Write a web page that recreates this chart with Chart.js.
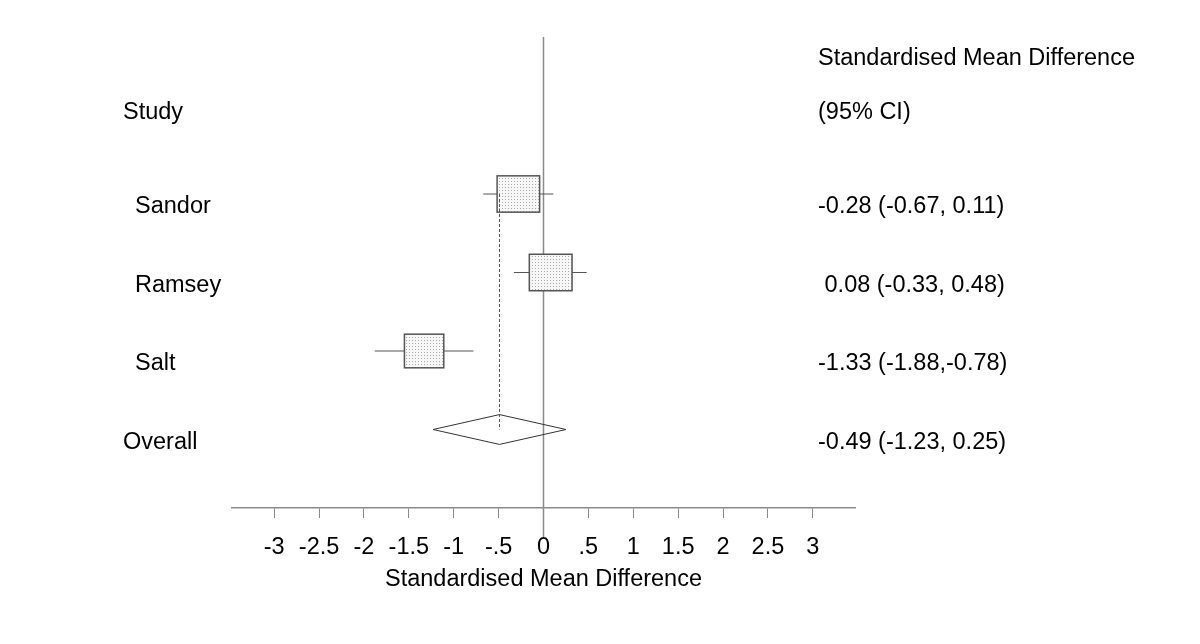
<!DOCTYPE html>
<html lang="en">
<head>
    <meta charset="UTF-8">
    <title>Standardised Mean Difference - Forest Plot</title>
    <style>
        * { margin: 0; padding: 0; box-sizing: border-box; }
        body { background: #FFFFFF; font-family: 'Liberation Sans', Arial, sans-serif; }
        .chart-container { position: relative; width: 1200px; height: 644px; }
    </style>
</head>
<body>
    <div class="chart-container">
        <canvas id="forest"></canvas>
    </div>

    <script src="https://cdn.jsdelivr.net/npm/chart.js@4/dist/chart.umd.min.js"></script>
    <script>
        // study data
        const studies = ['Sandor', 'Ramsey', 'Salt'];
        const estimates = [-0.28, 0.08, -1.33];
        const lower = [-0.67, -0.33, -1.88];
        const upper = [0.11, 0.48, -0.78];
        const weights = [34.9, 35.2, 29.9];
        const ciText = ['-0.28 (-0.67, 0.11)', ' 0.08 (-0.33, 0.48)', '-1.33 (-1.88,-0.78)'];

        // pooled estimate
        const overallLabel = 'Overall';
        const overall = [-0.49, -1.23, 0.25];
        const overallText = '-0.49 (-1.23, 0.25)';

        // x axis
        const tickValues = [-3, -2.5, -2, -1.5, -1, -0.5, 0, 0.5, 1, 1.5, 2, 2.5, 3];
        const tickLabels = ['-3', '-2.5', '-2', '-1.5', '-1', '-.5', '0', '.5', '1', '1.5', '2', '2.5', '3'];

        // rows counted up from the axis
        const rows = [4, 3, 2];
        const overallRow = 1;

        const FONT = "'Liberation Sans', Arial, sans-serif";
        const lineGrey = '#8a8a8a';
        const markGrey = '#555555';

        // dotted fill for the weight boxes
        const pat = document.createElement('canvas');
        pat.width = 3; pat.height = 3;
        const pctx = pat.getContext('2d');
        pctx.fillStyle = '#f7f7f7';
        pctx.fillRect(0, 0, 3, 3);
        pctx.fillStyle = '#a8a8a8';
        pctx.fillRect(1, 1, 1, 1);

        const datasets = [];

        // dashed line from first study down to the diamond
        datasets.push({
            data: [{ x: overall[0], y: rows[0] }, { x: overall[0], y: overallRow }],
            borderColor: markGrey, borderWidth: 1, borderDash: [3, 2],
            showLine: true, pointRadius: 0
        });

        // diamond
        datasets.push({
            data: [
                { x: overall[1], y: overallRow },
                { x: overall[0], y: overallRow + 0.19 },
                { x: overall[2], y: overallRow },
                { x: overall[0], y: overallRow - 0.19 },
                { x: overall[1], y: overallRow }
            ],
            borderColor: '#333333', borderWidth: 1, backgroundColor: '#FFFFFF',
            showLine: true, pointRadius: 0, fill: false
        });

        // confidence interval whiskers
        studies.forEach((s, i) => {
            datasets.push({
                data: [{ x: lower[i], y: rows[i] }, { x: upper[i], y: rows[i] }],
                borderColor: markGrey, borderWidth: 1,
                showLine: true, pointRadius: 0
            });
        });

        // line of no effect
        datasets.push({
            data: [{ x: 0, y: -0.37 }, { x: 0, y: 6 }],
            borderColor: lineGrey, borderWidth: 1.5,
            showLine: true, pointRadius: 0, clip: false
        });

        const forestPlugin = {
            id: 'forest',
            beforeDatasetDraw(chart, args) {
                if (args.index !== 0) return;
                const ctx = chart.ctx;
                const xs = chart.scales.x, ys = chart.scales.y;
                ctx.save();
                studies.forEach((s, i) => {
                    const cx = xs.getPixelForValue(estimates[i]);
                    const cy = ys.getPixelForValue(rows[i]);
                    const w = 7.2 * Math.sqrt(weights[i]);
                    const h = 6.15 * Math.sqrt(weights[i]);
                    ctx.fillStyle = ctx.createPattern(pat, 'repeat');
                    ctx.fillRect(cx - w / 2, cy - h / 2, w, h);
                    ctx.strokeStyle = markGrey;
                    ctx.lineWidth = 1.5;
                    ctx.strokeRect(cx - w / 2, cy - h / 2, w, h);
                });
                ctx.restore();
            },
            afterDraw(chart) {
                const ctx = chart.ctx;
                const ys = chart.scales.y;
                ctx.save();
                ctx.font = '23.5px ' + FONT;
                ctx.fillStyle = '#000000';
                ctx.textBaseline = 'middle';
                ctx.textAlign = 'left';
                ctx.fillText('Standardised Mean Difference', 818, ys.getPixelForValue(5.72));
                ctx.fillText('Study', 123, ys.getPixelForValue(5.04));
                ctx.fillText('(95% CI)', 818, ys.getPixelForValue(5.04));
                studies.forEach((s, i) => {
                    const y = ys.getPixelForValue(rows[i]) + 13;
                    ctx.fillText(s, 135, y);
                    ctx.fillText(ciText[i], 818, y);
                });
                const oy = ys.getPixelForValue(overallRow) + 13;
                ctx.fillText(overallLabel, 123, oy);
                ctx.fillText(overallText, 818, oy);
                ctx.restore();
            }
        };

        new Chart(document.getElementById('forest'), {
            type: 'scatter',
            data: { datasets },
            options: {
                responsive: true,
                maintainAspectRatio: false,
                animation: false,
                layout: { padding: { left: 232, right: 345, top: 37, bottom: 0 } },
                plugins: { legend: { display: false }, tooltip: { enabled: false } },
                scales: {
                    x: {
                        type: 'linear', min: -3.47, max: 3.47,
                        afterBuildTicks: (scale) => { scale.ticks = tickValues.map(v => ({ value: v })); },
                        afterFit: (scale) => { scale.height = 136; },
                        ticks: {
                            autoSkip: false, maxRotation: 0, padding: 18,
                            color: '#000000', font: { family: FONT, size: 23.5, lineHeight: 1 },
                            callback: (v, i) => tickLabels[i]
                        },
                        grid: { drawOnChartArea: false, drawTicks: true, tickLength: 10, color: lineGrey },
                        border: { display: true, color: lineGrey, width: 1.5 },
                        title: {
                            display: true, text: 'Standardised Mean Difference',
                            color: '#000000', font: { family: FONT, size: 23.5, lineHeight: 1 }, padding: { top: 0, bottom: 53 }
                        }
                    },
                    y: { type: 'linear', min: 0, max: 6, display: false }
                }
            },
            plugins: [forestPlugin]
        });
    </script>
</body>
</html>
